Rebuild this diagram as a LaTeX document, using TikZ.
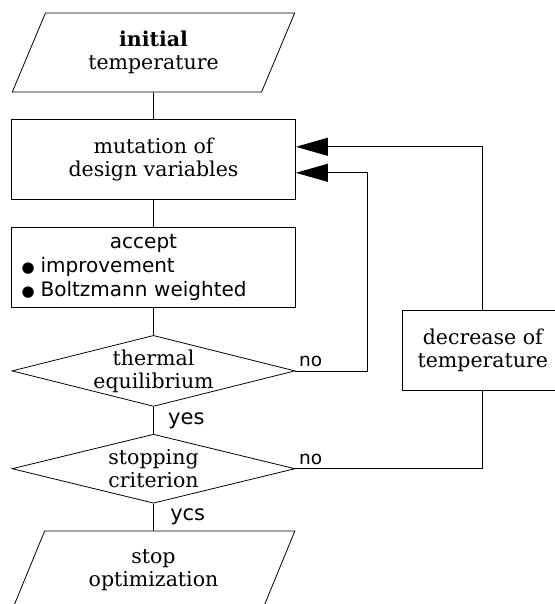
\documentclass[tikz,border=0pt]{standalone}
\usepackage{fontspec}
\setmainfont{DejaVu Serif}
\setsansfont{DejaVu Sans}
\usetikzlibrary{shapes.geometric, positioning, arrows.meta}

\newcommand{\dotitem}{\raisebox{0.5pt}{\fontsize{15}{15}\selectfont ●}\hspace{6pt}}

\begin{document}
\begin{tikzpicture}[
line width=0.8pt,
node distance=27pt,
io/.style={trapezium, trapezium left angle=67, trapezium right angle=113, trapezium stretches=true, draw, minimum width=283pt, minimum height=79pt, align=center, font=\fontsize{20.5}{23}\selectfont},
process/.style={rectangle, draw, minimum width=284pt, minimum height=80pt, align=center, font=\fontsize{20.5}{23}\selectfont},
decision/.style={diamond, draw, aspect=4, inner sep=-8pt, minimum width=283pt, minimum height=71pt, align=center, font=\fontsize{20.5}{23}\selectfont},
lab/.style={font=\sffamily\fontsize{21}{24}\selectfont},
nolab/.style={font=\sffamily\fontsize{18.5}{21}\selectfont},
arrow/.style={->, >={Triangle[length=32pt, width=18pt]}}
]
\useasboundingbox (0,0) rectangle (554pt,-604pt);

% Define nodes
\node (init) [io] at (153.5pt,-52.5pt) {{\bfseries initial}\\temperature};
\node (mutation) [process, below=of init] {mutation of\\design variables};
\node (accept) [process, below=of mutation, align=left, text width=264pt, font=\sffamily\fontsize{20}{24}\selectfont] {\makebox[244pt]{accept}\\\dotitem improvement\\\dotitem Boltzmann weighted};
\node (thermal) [decision, below=of accept] {thermal\\equilibrium};
\node (stopcrit) [decision, below=of thermal, minimum height=69pt] {stopping\\criterion};
\node (stopopt) [io, below=of stopcrit] {stop\\optimization};
\node (decrease) [process, right=107pt of thermal, yshift=20.5pt, minimum width=160pt] {decrease of\\temperature};

% Arrows
\draw (init) -- (mutation);
\draw (mutation) -- (accept);
\draw (accept) -- (thermal);
\draw (thermal) -- node (yeslab) [lab, right, xshift=11pt] {yes} (stopcrit);
\draw (stopcrit) -- node (ycslab) [lab, right, xshift=13pt] {ycs} (stopopt);

% Feedback loops
\coordinate (innerloop) at ([xshift=72pt]thermal.east);
\draw [arrow] (thermal.east) node (nolab1) [nolab, above right] {no} -- (innerloop) |- ([yshift=-13pt]mutation.east);
\draw [arrow] (decrease.north) |- ([yshift=13pt]mutation.east);
\draw (stopcrit.east) node (nolab2) [nolab, above right] {no} -| (decrease.south);

\end{tikzpicture}
\end{document}
